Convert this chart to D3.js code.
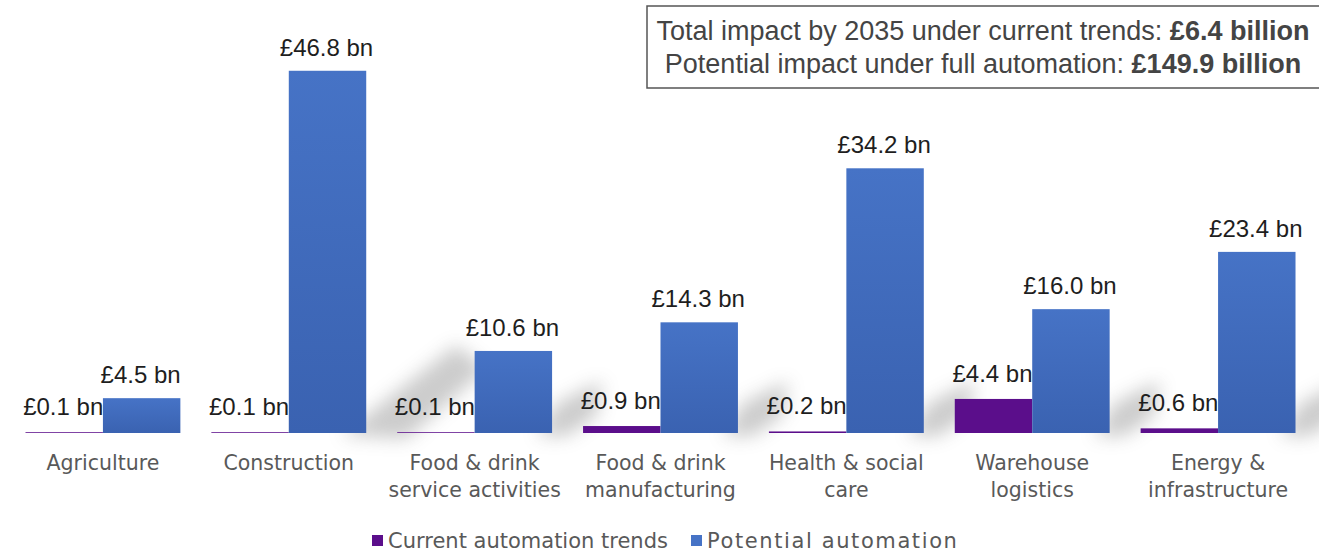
<!DOCTYPE html>
<html>
<head>
<meta charset="utf-8">
<script src="https://cdn.jsdelivr.net/npm/d3@7"></script>
<style>
  body { margin: 0; background: #fff; }
  svg { display: block; }
</style>
</head>
<body>
<div id="chart"></div>
<script>
document.addEventListener("DOMContentLoaded", function() {

    var categories = ["Agriculture", "Construction", "Food & drink\nservice activities",
        "Food & drink\nmanufacturing", "Health & social\ncare", "Warehouse\nlogistics",
        "Energy &\ninfrastructure"];
    var current = [0.1, 0.1, 0.1, 0.9, 0.2, 4.4, 0.6];
    var potential = [4.5, 46.8, 10.6, 14.3, 34.2, 16.0, 23.4];
    var seriesNames = ["Current automation trends", "Potential automation"];
    var boxLines = [
        { text: "Total impact by 2035 under current trends: ", bold: "£6.4 billion" },
        { text: "Potential impact under full automation: ", bold: "£149.9 billion" }
    ];

    var width = 1319, height = 554;
    var purple = "#5b0e8b";

    var svg = d3.select("#chart").append("svg")
        .attr("width", width)
        .attr("height", height);

    var defs = svg.append("defs");
    var grad = defs.append("linearGradient")
        .attr("id", "blueGrad")
        .attr("x1", 0).attr("y1", 0).attr("x2", 0).attr("y2", 1);
    grad.append("stop").attr("offset", "0%").attr("stop-color", "#4673c6");
    grad.append("stop").attr("offset", "100%").attr("stop-color", "#3a62b1");

    defs.append("filter").attr("id", "blur")
        .attr("x", "-50%").attr("y", "-50%").attr("width", "200%").attr("height", "200%")
        .append("feGaussianBlur").attr("stdDeviation", 9);

    var x0 = d3.scaleBand().domain(categories).range([10, 1311]);
    var x1 = d3.scaleBand().domain(["current", "potential"])
        .range([0, x0.bandwidth()]).paddingOuter(0.2);
    var y = d3.scaleLinear().domain([0, 50]).range([433, 46]);

    var data = categories.map(function(c, i) {
        return { cat: c, current: current[i], potential: potential[i] };
    });

    // soft floor shadow behind the bars
    var shadow = svg.append("g").attr("filter", "url(#blur)").attr("opacity", 0.38);
    var c1 = x0(categories[1]) + x1("potential") + x1.bandwidth();
    shadow.append("path")
        .attr("d", "M" + (c1 - 25) + "," + (y(0) + 2) + " L" + (c1 + 90) + "," + (y(10.6) - 6) +
            " L" + (c1 + 120) + "," + (y(10.6) + 18) + " L" + (c1 + 40) + "," + (y(0) + 6) + "Z")
        .attr("fill", "#7a7a7a");
    data.forEach(function(d, i) {
        if (i < 2) return;
        var r = x0(d.cat) + x1("potential") + x1.bandwidth();
        shadow.append("path")
            .attr("d", "M" + (r - 15) + "," + (y(0) + 3) + " L" + (r + 5) + "," + (y(0) - 30) +
                " L" + (r + 50) + "," + (y(0) - 52) + " L" + (r + 45) + "," + (y(0) - 18) + " L" + (r + 15) + "," + (y(0) + 3) + "Z")
            .attr("fill", "#7a7a7a");
    });

    var groups = svg.selectAll(".grp")
        .data(data)
        .enter().append("g")
        .attr("class", "grp")
        .attr("transform", function(d) { return "translate(" + x0(d.cat) + ",0)"; });

    groups.append("rect")
        .attr("x", x1("current"))
        .attr("width", x1.bandwidth())
        .attr("y", function(d) { return y(d.current); })
        .attr("height", function(d) { return y(0) - y(d.current); })
        .attr("fill", purple);

    groups.append("text")
        .attr("x", x1("current") + x1.bandwidth() / 2 - 1)
        .attr("y", function(d) { return y(d.current) - 17; })
        .attr("text-anchor", "middle")
        .style("font-family", "'Liberation Sans', Arial, sans-serif")
        .style("font-size", "24px")
        .style("fill", "#1e1e1e")
        .text(function(d) { return "£" + d.current.toFixed(1) + " bn"; });

    groups.append("rect")
        .attr("x", x1("potential"))
        .attr("width", x1.bandwidth())
        .attr("y", function(d) { return y(d.potential); })
        .attr("height", function(d) { return y(0) - y(d.potential); })
        .attr("fill", "url(#blueGrad)");

    groups.append("text")
        .attr("x", x1("potential") + x1.bandwidth() / 2 - 1)
        .attr("y", function(d) { return y(d.potential) - 15; })
        .attr("text-anchor", "middle")
        .style("font-family", "'Liberation Sans', Arial, sans-serif")
        .style("font-size", "24px")
        .style("fill", "#1e1e1e")
        .text(function(d) { return "£" + d.potential.toFixed(1) + " bn"; });

    // category labels
    var catText = groups.append("text")
        .attr("text-anchor", "middle")
        .style("font-family", "'DejaVu Sans', sans-serif")
        .style("font-size", "20.5px")
        .style("fill", "#595959");
    catText.each(function(d) {
        var lines = d.cat.split("\n");
        var t = d3.select(this);
        lines.forEach(function(l, k) {
            t.append("tspan")
                .attr("x", x0.bandwidth() / 2)
                .attr("y", 470 + k * 27)
                .text(l);
        });
    });

    // legend
    var legend = svg.append("g").attr("transform", "translate(372,0)");
    var legX = [0, 319];
    var legSpacing = [0, 1.6];
    var legColors = [purple, "#4673c6"];
    seriesNames.forEach(function(s, i) {
        legend.append("rect")
            .attr("x", legX[i]).attr("y", 535)
            .attr("width", 11).attr("height", 11)
            .attr("fill", legColors[i]);
        legend.append("text")
            .attr("x", legX[i] + 16).attr("y", 548)
            .style("font-family", "'DejaVu Sans', sans-serif")
            .style("font-size", "21px")
            .style("letter-spacing", legSpacing[i] + "px")
            .style("fill", "#595959")
            .text(s);
    });

    // summary box
    svg.append("rect")
        .attr("x", 647).attr("y", 6)
        .attr("width", 700).attr("height", 82)
        .attr("fill", "#fff")
        .attr("stroke", "#555")
        .attr("stroke-width", 1.5);

    boxLines.forEach(function(b, i) {
        var t = svg.append("text")
            .attr("x", 983).attr("y", 40 + i * 33)
            .attr("text-anchor", "middle")
            .style("font-family", "'Liberation Sans', Arial, sans-serif")
            .style("font-size", "27px")
            .style("fill", "#444");
        t.append("tspan").text(b.text);
        t.append("tspan").style("font-weight", "bold").text(b.bold);
    });
});
</script>
</body>
</html>
